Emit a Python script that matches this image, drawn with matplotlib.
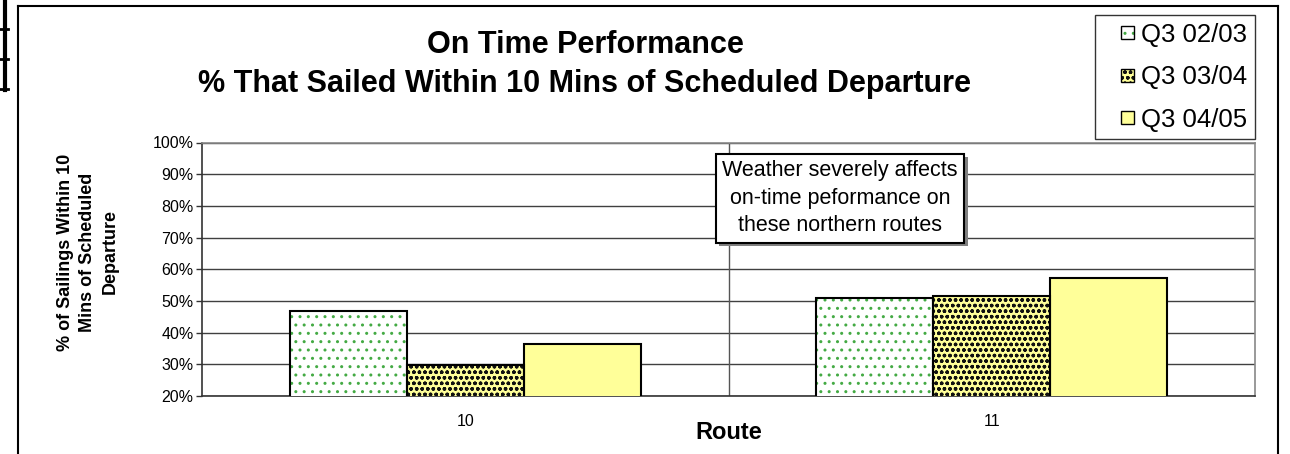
import numpy as np
import matplotlib
matplotlib.use('Agg')
import matplotlib.pyplot as plt
from matplotlib.lines import Line2D
from matplotlib.patches import Rectangle
from matplotlib.container import BarContainer
from matplotlib.legend_handler import HandlerBase
import matplotlib.patheffects as pe

plt.rcParams['font.family'] = ['Liberation Sans', 'DejaVu Sans']
plt.rcParams['hatch.linewidth'] = 1.0

# data (percent)
routes = ['10', '11']
series = ['Q3 02/03', 'Q3 03/04', 'Q3 04/05']
q3_0203 = [46.8, 50.8]
q3_0304 = [29.7, 51.5]
q3_0405 = [36.5, 57.2]
values = [q3_0203, q3_0304, q3_0405]

faces = ['white', '#ffff99', '#ffff99']
hatch_cols = ['#44aa44', '#111111', '#ffff99']
hatches = ['..', 'ooo', '']

W, H = 1290, 454
fig = plt.figure(figsize=(W / 100, H / 100), dpi=100)
ax = fig.add_axes([202 / W, 1 - 396 / H, (1255 - 202) / W, (396 - 142.5) / H])

x = np.arange(len(routes))
bw = 0.222
hatched = []
for i, vals in enumerate(values):
    pos = x + (i - 1) * bw
    # hatched fill first, then a plain black outline on top
    b = ax.bar(pos, vals, bw, bottom=0, color=faces[i], edgecolor=hatch_cols[i],
               hatch=hatches[i], linewidth=0, zorder=3, label=series[i])
    ax.bar(pos, vals, bw, facecolor='none', edgecolor='black', linewidth=1.5, zorder=4)
    hatched.append(b)

ax.set_xlim(-0.5, 1.5)
ax.set_ylim(20, 100)
ax.set_yticks(np.arange(20, 101, 10))
ax.set_yticklabels([f'{v}%' for v in range(20, 101, 10)], fontsize=11.5)
ax.set_xticks(x)
ax.set_xticklabels(routes, fontsize=11.5)
ax.tick_params(axis='x', length=0, pad=13)
ax.tick_params(axis='y', length=4, width=1, color='#333333', pad=2)
ax.yaxis.grid(True, color='#404040', linewidth=1)
ax.set_axisbelow(True)
ax.axvline(0.5, color='#555555', linewidth=1, zorder=1)
for s in ['left', 'bottom']:
    ax.spines[s].set_color('#333333')
for s in ['top', 'right']:
    ax.spines[s].set_color('#888888')
for s in ax.spines.values():
    s.set_linewidth(1.2)

ax.set_xlabel('Route', fontsize=17, fontweight='bold', labelpad=-6)

fig.text(88 / W, 1 - 252 / H, '% of Sailings Within 10\nMins of Scheduled\nDeparture',
         rotation=90, ha='center', va='center', multialignment='center',
         fontsize=13, fontweight='bold', linespacing=1.4)

fig.text(585 / W, 1 - 64.5 / H,
         'On Time Performance\n% That Sailed Within 10 Mins of Scheduled Departure',
         ha='center', va='center', multialignment='center',
         fontsize=22, fontweight='bold', linespacing=1.4)

note = ax.text(0.712, 82.4, 'Weather severely affects\non-time peformance on\nthese northern routes',
               ha='center', va='center', multialignment='center', fontsize=15.5,
               linespacing=1.4, zorder=6,
               bbox=dict(boxstyle='square,pad=0.3', facecolor='white',
                         edgecolor='black', linewidth=1.5))
note.get_bbox_patch().set_path_effects(
    [pe.SimplePatchShadow(offset=(2.5, -2.5), shadow_rgbFace='#808080', alpha=1), pe.Normal()])


class SquareHandler(HandlerBase):
    def create_artists(self, legend, orig_handle, xdescent, ydescent,
                       width, height, fontsize, trans):
        p = orig_handle.patches[0]
        s = 13 * 72 / 100
        x0 = -xdescent + width - s
        y0 = -ydescent + (height - s) / 2
        r1 = Rectangle((x0, y0), s, s, facecolor=p.get_facecolor(),
                       edgecolor=p.get_edgecolor(), hatch=p.get_hatch(),
                       linewidth=0, transform=trans)
        r2 = Rectangle((x0, y0), s, s, facecolor='none', edgecolor='black',
                       linewidth=1, transform=trans)
        return [r1, r2]


leg = fig.legend(hatched, series, loc='upper left',
                 bbox_to_anchor=(1095 / W, 1 - 15 / H), borderaxespad=0,
                 fontsize=18.5, frameon=True, fancybox=False, shadow=False,
                 handler_map={BarContainer: SquareHandler()},
                 handlelength=1.2, handleheight=0.6, handletextpad=0.3,
                 labelspacing=0.72, borderpad=0.3)
leg.get_frame().set_edgecolor('black')
leg.get_frame().set_linewidth(1)

# outer chart border
lc = 'black'
fig.add_artist(Line2D([17.5 / W, 17.5 / W], [0, 1 - 5.5 / H], color=lc, lw=1.5))
fig.add_artist(Line2D([17.5 / W, 1277.5 / W], [1 - 5.5 / H, 1 - 5.5 / H], color=lc, lw=1.5))
fig.add_artist(Line2D([1277.5 / W, 1277.5 / W], [0, 1 - 5.5 / H], color=lc, lw=1.5))

# cut-off piece at far left
fig.add_artist(Line2D([5.3 / W, 5.3 / W], [1, 1 - 90 / H], color=lc, lw=3))
for yy in [28.5, 58.5, 88.5]:
    fig.add_artist(Line2D([0, 8 / W], [1 - yy / H, 1 - yy / H], color=lc, lw=2))

fig.savefig('out.png', dpi=100)
